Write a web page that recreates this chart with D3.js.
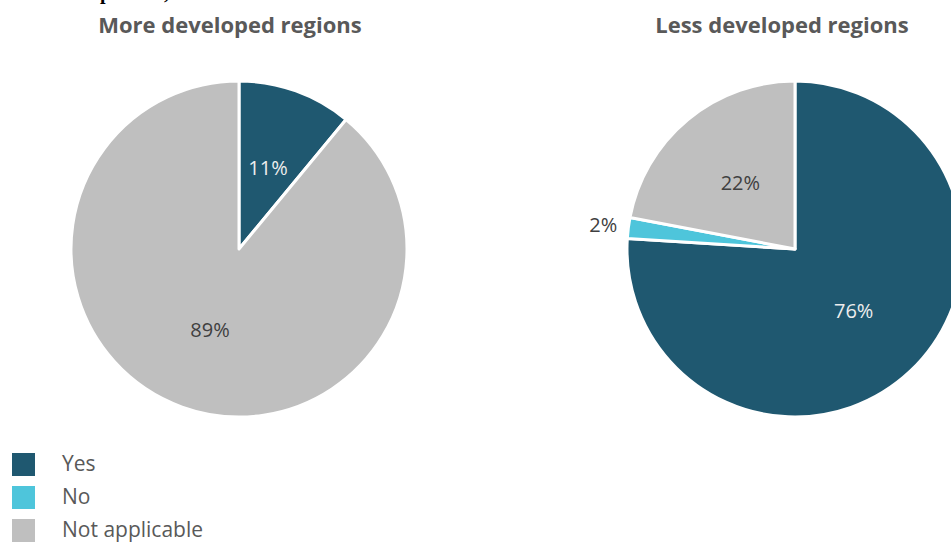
<!DOCTYPE html>
<html>
<head>
<meta charset="utf-8">
<script src="https://cdn.jsdelivr.net/npm/d3@7"></script>
<style>
  html, body { margin: 0; padding: 0; background: #fff; }
  svg { display: block; }
</style>
</head>
<body>
<svg id="chart" width="951" height="544"></svg>
<script>
// Response categories and their colours
const categories = ["Yes", "No", "Not applicable"];
const colors = ["#1F5870", "#4EC5DB", "#BFBFBF"];

// Panel titles
const panelTitles = ["More developed regions", "Less developed regions"];

// Percentage shares per panel, in category order
const moreDeveloped = [11, 0, 89];
const lessDeveloped = [76, 2, 22];

const svg = d3.select("#chart");
const font = "'Open Sans', 'Noto Sans', sans-serif";

// Descenders of the running heading above the charts
svg.append("text")
  .attr("x", 100).attr("y", -1)
  .attr("font-family", "'Liberation Serif', 'DejaVu Serif', serif")
  .attr("font-weight", "bold").attr("font-size", 20)
  .attr("fill", "#000")
  .text("parents,");

const radius = 168;
const panels = [
  { title: panelTitles[0], values: moreDeveloped, cx: 239, cy: 249, tx: 230 },
  { title: panelTitles[1], values: lessDeveloped, cx: 795, cy: 249, tx: 782 }
];

const pie = d3.pie().sort(null).value(d => d.value);
const arc = d3.arc().innerRadius(0).outerRadius(radius);
const labelArc = d3.arc().innerRadius(radius * 0.51).outerRadius(radius * 0.51);
const outerLabelArc = d3.arc().innerRadius(radius * 1.15).outerRadius(radius * 1.15);

panels.forEach(p => {
  svg.append("text")
    .attr("x", p.tx).attr("y", 33)
    .attr("text-anchor", "middle")
    .attr("font-family", font).attr("font-weight", "bold").attr("font-size", 22)
    .attr("fill", "#595959")
    .text(p.title);

  const data = categories.map((c, i) => ({ cat: c, value: p.values[i], color: colors[i] }));
  const arcs = pie(data).filter(d => d.data.value > 0);

  const g = svg.append("g").attr("transform", `translate(${p.cx},${p.cy})`);

  g.selectAll("path")
    .data(arcs)
    .join("path")
    .attr("d", arc)
    .attr("fill", d => d.data.color)
    .attr("stroke", "#fff")
    .attr("stroke-width", 3)
    .attr("stroke-linejoin", "round");

  g.selectAll("text.value")
    .data(arcs)
    .join("text")
    .attr("class", "value")
    .attr("transform", d => {
      const c = d.data.value < 5 ? outerLabelArc.centroid(d) : labelArc.centroid(d);
      return `translate(${c[0]},${c[1]})`;
    })
    .attr("text-anchor", "middle")
    .attr("dy", "0.35em")
    .attr("font-family", font).attr("font-size", 20)
    .attr("fill", d => d.data.cat === "Yes" ? "#EDEDED" : "#404040")
    .text(d => d.data.value + "%");
});

// Legend
const legend = svg.append("g").attr("transform", "translate(12,453)");
const rows = legend.selectAll("g")
  .data(categories)
  .join("g")
  .attr("transform", (d, i) => `translate(0,${i * 33})`);
rows.append("rect")
  .attr("width", 23).attr("height", 23)
  .attr("fill", (d, i) => colors[i]);
rows.append("text")
  .attr("x", 50).attr("y", 11)
  .attr("dy", "0.35em")
  .attr("font-family", font).attr("font-size", 21)
  .attr("fill", "#595959")
  .text(d => d);
</script>
</body>
</html>
